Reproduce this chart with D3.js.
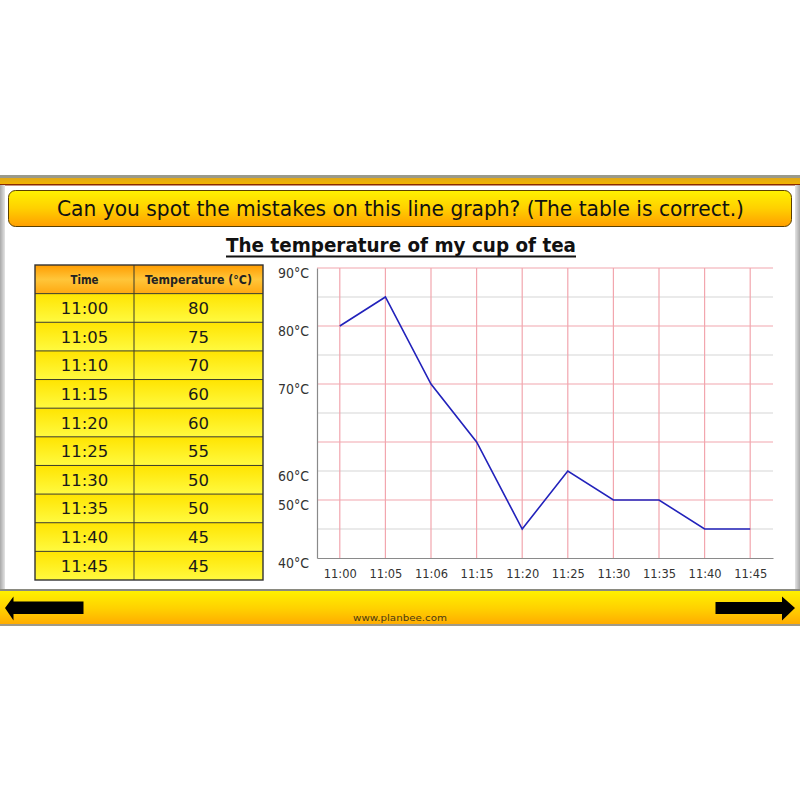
<!DOCTYPE html>
<html>
<head>
<meta charset="utf-8">
<script src="https://cdn.jsdelivr.net/npm/d3@7"></script>
<style>
  html, body { margin: 0; padding: 0; background: #fff; }
  svg { display: block; }
</style>
</head>
<body>
<svg id="chart" width="800" height="800"></svg>
<script>
// ---- Data ----
const headerText = "Can you spot the mistakes on this line graph? (The table is correct.)";
const chartTitle = "The temperature of my cup of tea";
const tableColumns = ["Time", "Temperature (°C)"];
const tableTimes = ["11:00", "11:05", "11:10", "11:15", "11:20", "11:25", "11:30", "11:35", "11:40", "11:45"];
const tableTemps = [80, 75, 70, 60, 60, 55, 50, 50, 45, 45];
// What the (deliberately wrong) graph shows
const graphXLabels = ["11:00", "11:05", "11:06", "11:15", "11:20", "11:25", "11:30", "11:35", "11:40", "11:45"];
const graphValues = [80, 85, 70, 60, 45, 55, 50, 50, 45, 45];
const yTickValues = [90, 80, 70, 55, 50, 40];
const yTickLabels = ["90°C", "80°C", "70°C", "60°C", "50°C", "40°C"];
const gridValues = [45, 50, 55, 60, 65, 70, 75, 80, 85, 90];
const footerText = "www.planbee.com";

const svg = d3.select("#chart");
const defs = svg.append("defs");

function grad(id, stops, vertical = true) {
  const g = defs.append("linearGradient").attr("id", id)
    .attr("x1", 0).attr("y1", 0).attr("x2", vertical ? 0 : 1).attr("y2", vertical ? 1 : 0);
  stops.forEach(s => g.append("stop").attr("offset", s[0]).attr("stop-color", s[1]));
}
grad("hdr", [[0, "#FFF200"], [0.5, "#FFD000"], [1, "#FF9E00"]]);
grad("bar", [[0, "#FFF000"], [0.55, "#FFD000"], [1, "#FFAC00"]]);
grad("topband", [[0, "#E0A818"], [1, "#F2B400"]]);
grad("thead", [[0, "#FF9C00"], [0.5, "#FFC63A"], [1, "#FFA810"]]);
grad("trow", [[0, "#FFE400"], [1, "#FFFA40"]]);
grad("edgeL", [[0, "#A8A8A8"], [1, "#E4E4E4"]], false);
grad("edgeR", [[0, "#E4E4E4"], [1, "#A8A8A8"]], false);

// ---- Slide frame ----
svg.append("rect").attr("x", 0).attr("y", 175).attr("width", 800).attr("height", 450).attr("fill", "#fff");
svg.append("rect").attr("x", 0).attr("y", 175).attr("width", 800).attr("height", 3).attr("fill", "#9a9a8a");
svg.append("rect").attr("x", 0).attr("y", 178).attr("width", 800).attr("height", 6).attr("fill", "url(#topband)");
svg.append("rect").attr("x", 0).attr("y", 184).attr("width", 800).attr("height", 1.5).attr("fill", "#8A2A00");
svg.append("rect").attr("x", 0).attr("y", 185).attr("width", 5).attr("height", 405).attr("fill", "url(#edgeL)");
svg.append("rect").attr("x", 795).attr("y", 185).attr("width", 5).attr("height", 405).attr("fill", "url(#edgeR)");

// Header box
svg.append("rect").attr("x", 8.5).attr("y", 190.5).attr("width", 783).attr("height", 36)
  .attr("rx", 7).attr("fill", "url(#hdr)").attr("stroke", "#5A4000").attr("stroke-width", 1);
svg.append("text").attr("x", 400.5).attr("y", 216)
  .attr("text-anchor", "middle")
  .attr("font-family", "'DejaVu Sans', sans-serif").attr("font-size", 21)
  .attr("textLength", 687).attr("lengthAdjust", "spacingAndGlyphs")
  .attr("fill", "#111").text(headerText);

// Title
svg.append("text").attr("x", 401).attr("y", 252)
  .attr("text-anchor", "middle")
  .attr("font-family", "'DejaVu Sans', sans-serif").attr("font-weight", "bold").attr("font-size", 20)
  .attr("textLength", 350).attr("lengthAdjust", "spacingAndGlyphs")
  .attr("fill", "#111").text(chartTitle);
svg.append("line").attr("x1", 226).attr("x2", 576).attr("y1", 256.5).attr("y2", 256.5)
  .attr("stroke", "#111").attr("stroke-width", 1.8);

// ---- Table ----
const tX0 = 35, tX1 = 263, tSplit = 134, tY0 = 265, tY1 = 580;
const rowCount = tableTimes.length + 1;
const rowY = d3.scaleLinear().domain([0, rowCount]).range([tY0, tY1]);
const colCenters = [(tX0 + tSplit) / 2, (tSplit + tX1) / 2];
const tg = svg.append("g");
tg.append("rect").attr("x", tX0).attr("y", rowY(0)).attr("width", tX1 - tX0).attr("height", rowY(1) - rowY(0))
  .attr("fill", "url(#thead)");
tg.selectAll("rect.row").data(tableTimes).enter().append("rect").attr("class", "row")
  .attr("x", tX0).attr("y", (d, i) => rowY(i + 1)).attr("width", tX1 - tX0).attr("height", rowY(1) - rowY(0))
  .attr("fill", "url(#trow)");
tg.selectAll("line.h").data(d3.range(1, rowCount)).enter().append("line").attr("class", "h")
  .attr("x1", tX0).attr("x2", tX1).attr("y1", d => rowY(d)).attr("y2", d => rowY(d))
  .attr("stroke", "#3a3a2a").attr("stroke-width", 1);
tg.append("line").attr("x1", tSplit).attr("x2", tSplit).attr("y1", tY0).attr("y2", tY1)
  .attr("stroke", "#3a3a2a").attr("stroke-width", 1);
tg.append("rect").attr("x", tX0).attr("y", tY0).attr("width", tX1 - tX0).attr("height", tY1 - tY0)
  .attr("fill", "none").attr("stroke", "#333").attr("stroke-width", 1.4);
const headerWidths = [28, 107];
tableColumns.forEach((c, i) => {
  tg.append("text").attr("x", colCenters[i]).attr("y", (rowY(0) + rowY(1)) / 2 + 4.5)
    .attr("text-anchor", "middle")
    .attr("font-family", "'DejaVu Sans', sans-serif").attr("font-weight", "bold").attr("font-size", 11.5)
    .attr("textLength", headerWidths[i]).attr("lengthAdjust", "spacingAndGlyphs")
    .attr("fill", "#222").text(c);
});
tg.selectAll("text.time").data(tableTimes).enter().append("text").attr("class", "time")
  .attr("x", colCenters[0]).attr("y", (d, i) => (rowY(i + 1) + rowY(i + 2)) / 2 + 6)
  .attr("text-anchor", "middle").attr("font-family", "'DejaVu Sans', sans-serif").attr("font-size", 16.5)
  .attr("fill", "#1a1a1a").text(d => d);
tg.selectAll("text.temp").data(tableTemps).enter().append("text").attr("class", "temp")
  .attr("x", colCenters[1]).attr("y", (d, i) => (rowY(i + 1) + rowY(i + 2)) / 2 + 6)
  .attr("text-anchor", "middle").attr("font-family", "'DejaVu Sans', sans-serif").attr("font-size", 16.5)
  .attr("fill", "#1a1a1a").text(d => d);

// ---- Graph ----
const x = d3.scaleLinear().domain([-0.5, graphXLabels.length - 0.5]).range([317, 773]);
const y = d3.scaleLinear().domain([40, 90]).range([558, 268]);
const gg = svg.append("g");

gg.selectAll("line.hg").data(gridValues).enter().append("line").attr("class", "hg")
  .attr("x1", x.range()[0]).attr("x2", x.range()[1])
  .attr("y1", d => y(d)).attr("y2", d => y(d))
  .attr("stroke", d => d % 10 === 0 ? "#F2A6AE" : "#D6D6D6").attr("stroke-width", 1.2);
gg.selectAll("line.vg").data(graphXLabels).enter().append("line").attr("class", "vg")
  .attr("x1", (d, i) => x(i)).attr("x2", (d, i) => x(i))
  .attr("y1", y(90)).attr("y2", y(40))
  .attr("stroke", "#F2A6AE").attr("stroke-width", 1.2);

const yAxis = d3.axisLeft(y).tickValues(yTickValues)
  .tickFormat((d, i) => yTickLabels[i]).tickSize(0).tickPadding(8);
const yG = gg.append("g").attr("transform", `translate(${x.range()[0]},0)`).call(yAxis);
yG.select(".domain").attr("stroke", "#8a8a8a").attr("stroke-width", 1.2);
yG.selectAll("text").attr("font-family", "'DejaVu Sans', sans-serif").attr("font-size", 14)
  .attr("textLength", 31).attr("lengthAdjust", "spacingAndGlyphs")
  .attr("fill", "#333").attr("dy", "0.68em");

const xAxis = d3.axisBottom(x).tickValues(d3.range(graphXLabels.length))
  .tickFormat(i => graphXLabels[i]).tickSize(0).tickPadding(11);
const xG = gg.append("g").attr("transform", `translate(0,${y(40)})`).call(xAxis);
xG.select(".domain").attr("stroke", "#8a8a8a").attr("stroke-width", 1.2);
xG.selectAll("text").attr("font-family", "'DejaVu Sans', sans-serif").attr("font-size", 13)
  .attr("textLength", 33).attr("lengthAdjust", "spacingAndGlyphs")
  .attr("fill", "#333");

const line = d3.line().x((d, i) => x(i)).y(d => y(d));
gg.append("path").datum(graphValues).attr("d", line)
  .attr("fill", "none").attr("stroke", "#2222BB").attr("stroke-width", 1.6);

// ---- Bottom bar ----
svg.append("rect").attr("x", 0).attr("y", 589).attr("width", 800).attr("height", 2).attr("fill", "#8a8a80");
svg.append("rect").attr("x", 0).attr("y", 591).attr("width", 800).attr("height", 33).attr("fill", "url(#bar)");
svg.append("rect").attr("x", 0).attr("y", 624).attr("width", 800).attr("height", 2).attr("fill", "#a09a88");

const leftArrow = [[5, 608], [13.5, 596.5], [13.5, 601.5], [83.5, 601.5], [83.5, 614], [13.5, 614], [13.5, 620.5]];
const rightArrow = [[795, 608], [782, 596.5], [782, 602], [715.5, 602], [715.5, 614], [782, 614], [782, 620.5]];
[leftArrow, rightArrow].forEach(pts => {
  svg.append("path").attr("d", d3.line()(pts) + "Z").attr("fill", "#000");
});
svg.append("text").attr("x", 400).attr("y", 621).attr("text-anchor", "middle")
  .attr("font-family", "'DejaVu Sans', sans-serif").attr("font-size", 9.5)
  .attr("textLength", 94).attr("lengthAdjust", "spacingAndGlyphs")
  .attr("fill", "#4a3a10").text(footerText);
</script>
</body>
</html>
